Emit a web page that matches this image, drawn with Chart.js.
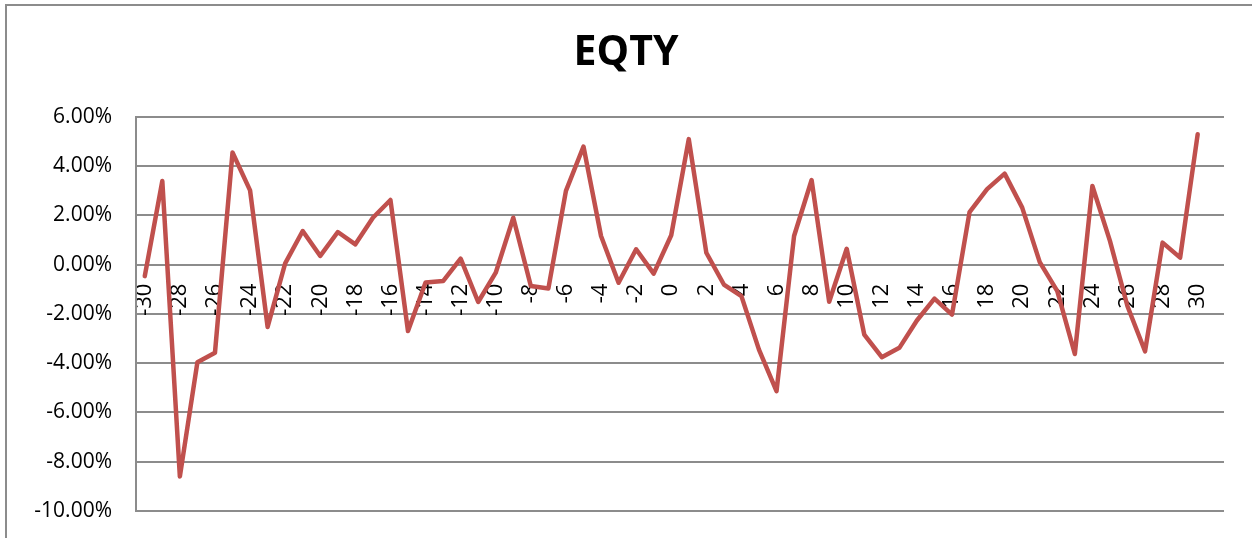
<!DOCTYPE html>
<html>
<head>
<meta charset="utf-8">
<title>EQTY</title>
<script src="https://cdn.jsdelivr.net/npm/chart.js@4/dist/chart.umd.min.js"></script>
<style>
    html, body { margin: 0; padding: 0; background: #fff; overflow: hidden; }
    #wrap { position: relative; width: 1252px; height: 538px; }
    #frame {
        position: absolute; left: 5px; top: 4px; width: 1300px; height: 600px;
        border: 2px solid #8c8c8c; pointer-events: none;
    }
    canvas { position: absolute; left: 0; top: 0; }
</style>
</head>
<body>
<div id="wrap">
    <canvas id="eqtyChart" width="1252" height="538"></canvas>
    <div id="frame"></div>
</div>
<script>
// event days, -30 .. 31 (last slot has no value)
const days = [
    -30, -29, -28, -27, -26, -25, -24, -23, -22, -21,
    -20, -19, -18, -17, -16, -15, -14, -13, -12, -11,
    -10, -9, -8, -7, -6, -5, -4, -3, -2, -1,
    0, 1, 2, 3, 4, 5, 6, 7, 8, 9,
    10, 11, 12, 13, 14, 15, 16, 17, 18, 19,
    20, 21, 22, 23, 24, 25, 26, 27, 28, 29,
    30, 31
];

// EQTY returns in percent
const eqtyReturns = [
    -0.47, 3.39, -8.60, -3.96, -3.58, 4.55, 3.01, -2.53, 0.05, 1.36,
    0.35, 1.32, 0.82, 1.90, 2.62, -2.70, -0.73, -0.67, 0.24, -1.52,
    -0.33, 1.90, -0.87, -0.97, 2.99, 4.79, 1.16, -0.74, 0.62, -0.37,
    1.19, 5.09, 0.48, -0.81, -1.28, -3.45, -5.14, 1.16, 3.43, -1.51,
    0.64, -2.84, -3.76, -3.38, -2.27, -1.38, -2.03, 2.13, 3.06, 3.69,
    2.31, 0.10, -1.08, -3.63, 3.19, 0.96, -1.69, -3.52, 0.89, 0.28,
    5.29, null
];

const yMin = -10;
const yMax = 6;
const yStep = 2;

const FONT = "'Open Sans', 'Liberation Sans', sans-serif";
const GRID = '#8c8c8c';

const ctx = document.getElementById('eqtyChart').getContext('2d');
new Chart(ctx, {
    type: 'line',
    data: {
        labels: days.map(String),
        datasets: [{
            label: 'EQTY',
            data: eqtyReturns,
            borderColor: '#C0504D',
            borderWidth: 4.5,
            borderJoinStyle: 'round',
            borderCapStyle: 'round',
            pointRadius: 0,
            tension: 0,
            fill: false
        }]
    },
    options: {
        responsive: false,
        animation: false,
        devicePixelRatio: 1,
        layout: { padding: { left: 0, right: 0, top: 0, bottom: 27 } },
        scales: {
            x: {
                type: 'category',
                offset: true,
                position: { y: 0 },
                // invisible ticks just push the labels down from the zero line
                grid: {
                    display: true, drawOnChartArea: false, drawTicks: true,
                    tickLength: 19, color: 'rgba(0,0,0,0)'
                },
                border: { display: false },
                ticks: {
                    autoSkip: false,
                    maxRotation: 90,
                    minRotation: 90,
                    padding: 0,
                    color: '#000',
                    font: { family: FONT, size: 22 },
                    // every second day gets a label
                    callback: function(value, index) {
                        return index % 2 === 0 ? String(days[index]) : '';
                    }
                },
                // the axis sits inside the plot, so it takes no room below it
                afterFit: function(scale) { scale.height = 0; }
            },
            y: {
                min: yMin,
                max: yMax,
                grid: { color: GRID, lineWidth: 2, drawTicks: false },
                border: { display: true, color: GRID, width: 2 },
                ticks: {
                    stepSize: yStep,
                    padding: 24,
                    color: '#000',
                    font: { family: FONT, size: 21 },
                    callback: v => v.toFixed(2) + '%'
                },
                afterFit: function(scale) {
                    scale.width = 136;
                    // tick padding should not eat into the plot height
                    scale.paddingTop = 0;
                    scale.paddingBottom = 0;
                }
            },
            // empty strip on the right side of the plot
            yRight: {
                position: 'right',
                display: true,
                min: yMin,
                max: yMax,
                grid: { display: false },
                border: { display: false },
                ticks: { display: false },
                afterFit: function(scale) { scale.width = 28; }
            }
        },
        plugins: {
            legend: { display: false },
            tooltip: { enabled: false },
            title: {
                display: true,
                text: 'EQTY',
                color: '#000',
                font: { family: FONT, size: 41, weight: 'bold' },
                padding: { top: 29, bottom: 38.5 }
            }
        }
    }
});
</script>
</body>
</html>
